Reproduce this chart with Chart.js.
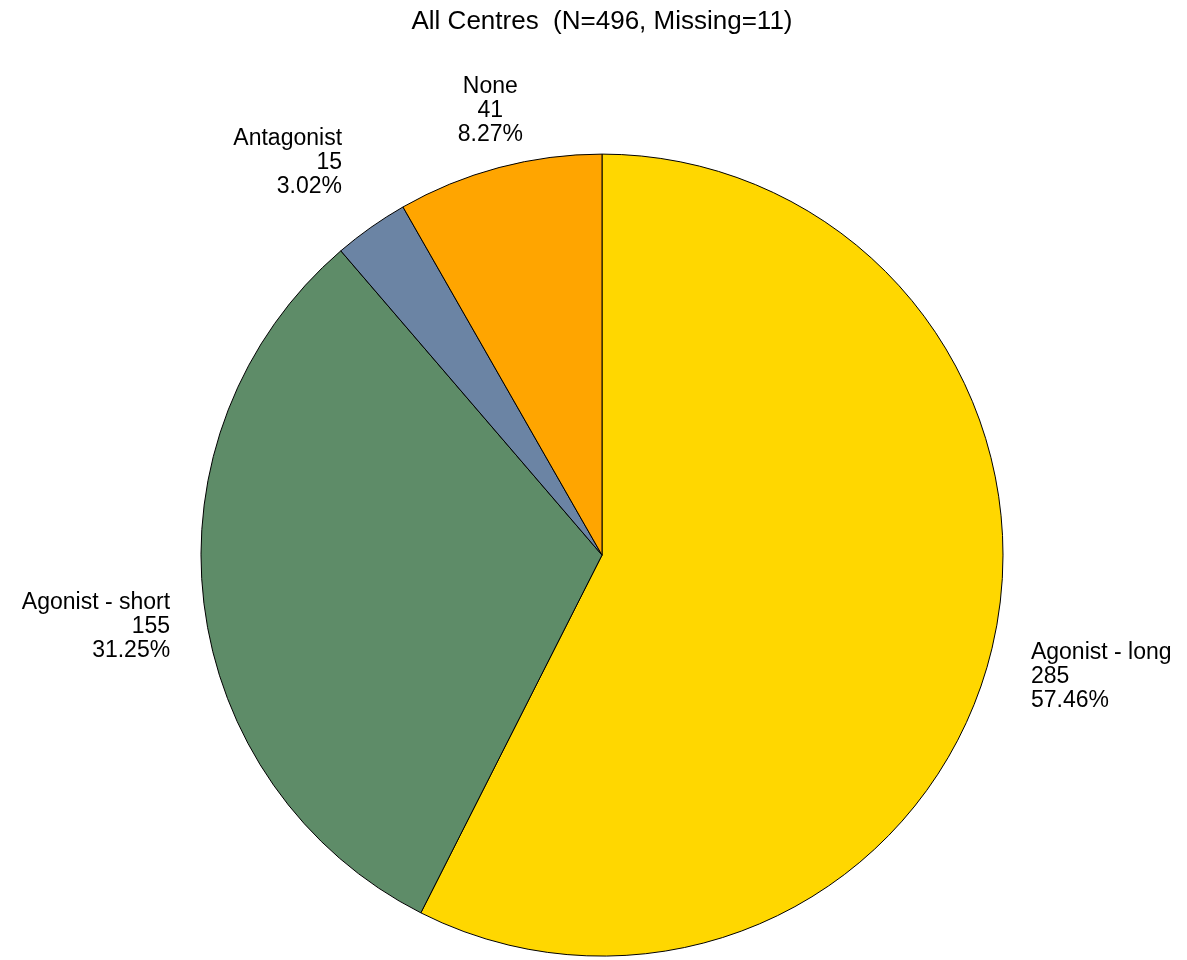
<!DOCTYPE html>
<html>
<head>
<meta charset="utf-8">
<script src="https://cdn.jsdelivr.net/npm/chart.js@4/dist/chart.umd.min.js"></script>
<style>
	html, body { margin: 0; padding: 0; background: #fff; }
	#chart-centres { display: block; }
</style>
</head>
<body>
<canvas id="chart-centres" width="1187" height="960"></canvas>
<script>
// Chart data
const CATEGORIES = ["Agonist - long", "Agonist - short", "Antagonist", "None"];
const COUNTS = [285, 155, 15, 41];
const PERCENTS = ["57.46%", "31.25%", "3.02%", "8.27%"];
const TITLE = "All Centres  (N=496, Missing=11)";

const COLORS = ["#FFD700", "#5E8C68", "#6B84A4", "#FFA500"];
const FONT = "Arial, 'Liberation Sans', sans-serif";

// Labels outside each slice
const outsideLabels = {
	id: "outsideLabels",
	afterDatasetsDraw(chart) {
		const { ctx } = chart;
		const meta = chart.getDatasetMeta(0);
		ctx.save();
		ctx.font = `23px ${FONT}`;
		ctx.fillStyle = "#000";
		ctx.textBaseline = "middle";
		const lineH = 24;
		meta.data.forEach((arc, i) => {
			const mid = (arc.startAngle + arc.endAngle) / 2;
			const s = Math.sin(mid);
			const c = Math.cos(mid);
			let gap = 34;
			if (s < -0.5 && s > -0.9) gap = 50;
			if (c > 0.3) gap = 40;
			const r = arc.outerRadius + gap;
			const x = arc.x + c * r;
			const y = arc.y + s * r;
			const lines = [CATEGORIES[i], String(COUNTS[i]), PERCENTS[i]];
			ctx.textAlign = c > 0.3 ? "left" : c < -0.3 ? "right" : "center";
			const y0 = s > 0 ? y - 5 : y - lineH * (lines.length - 1);
			lines.forEach((t, j) => ctx.fillText(t, x, y0 + j * lineH));
		});
		ctx.restore();
	},
};

const CHART_CONFIG = {
	type: "pie",
	data: {
		labels: CATEGORIES,
		datasets: [
			{
				data: COUNTS,
				backgroundColor: COLORS,
				borderColor: "#000",
				borderWidth: 1,
				hoverOffset: 0,
			},
		],
	},
	options: {
		responsive: false,
		animation: false,
		radius: 401,
		layout: {
			padding: { left: 17, right: 0, top: 0, bottom: 0 },
		},
		plugins: {
			legend: { display: false },
			tooltip: { enabled: false },
			title: {
				display: true,
				text: TITLE,
				color: "#000",
				font: { family: FONT, size: 26, weight: "normal" },
				padding: { top: 6, bottom: 113 },
			},
		},
	},
	plugins: [outsideLabels],
};

new Chart(document.getElementById("chart-centres"), CHART_CONFIG);
</script>
</body>
</html>
